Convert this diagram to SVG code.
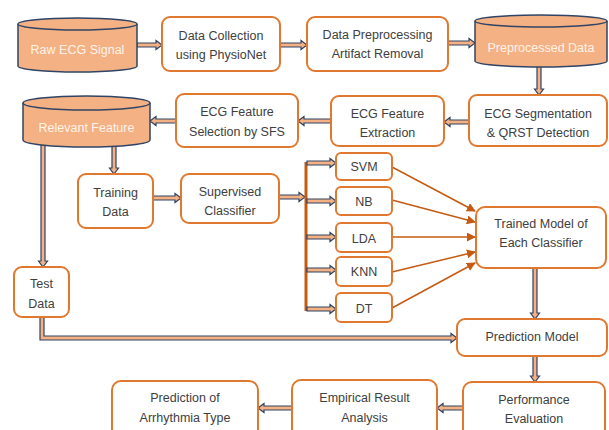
<svg xmlns="http://www.w3.org/2000/svg" width="609" height="430" viewBox="0 0 609 430">
<style>
.box{fill:#fff;stroke:#E0782F;stroke-width:2}
.cyl{fill:#F4B183;stroke:#2F4466;stroke-width:1.5}
.t{font-family:"Liberation Sans",Arial,sans-serif;font-size:12.5px;fill:#404040;text-anchor:middle}
.ct{font-family:"Liberation Sans",Arial,sans-serif;font-size:12.5px;fill:#FFF3EA;text-anchor:middle}
.ba{fill:#F4B183;stroke:#2F4466;stroke-width:1.2;stroke-linejoin:miter}
.oa{fill:none;stroke:#C55A11;stroke-width:1.5}
</style>
<defs>
<marker id="ah" viewBox="0 0 10 10" refX="9" refY="5" markerWidth="6" markerHeight="6" orient="auto" markerUnits="strokeWidth">
<path d="M0,0 L10,5 L0,10 Z" fill="#C55A11"/>
</marker>
</defs>
<rect width="609" height="430" fill="#fff"/>
<g id="connectors">
<path class="ba" d="M137,43 H156 V40.5 L162,45 L156,49.5 V47 H137 Z"/>
<path class="ba" d="M280,43 H301 V40.5 L307,45 L301,49.5 V47 H280 Z"/>
<path class="ba" d="M448,41 H469 V38.5 L475,43 L469,47.5 V45 H448 Z"/>
<path class="ba" d="M537,64 V89 H534.5 L539,95 L543.5,89 H541 V64 Z"/>
<path class="ba" d="M469,120 H450 V117.5 L444,122 L450,126.5 V124 H469 Z"/>
<path class="ba" d="M331,119 H304 V116.5 L298,121 L304,125.5 V123 H331 Z"/>
<path class="ba" d="M176,119 H156 V116.5 L150,121 L156,125.5 V123 H176 Z"/>
<path class="ba" d="M112,144 V168 H109.5 L114,174 L118.5,168 H116 V144 Z"/>
<path class="ba" d="M41,142 V261 H38.5 L43,267 L47.5,261 H45 V142 Z"/>
<path class="ba" d="M153,196 H175 V193.5 L181,198 L175,202.5 V200 H153 Z"/>
<path class="ba" d="M279,195 H299 V192.5 L305,197 L299,201.5 V199 H279 Z"/>
<line x1="306" y1="162" x2="306" y2="311" stroke="#C55A11" stroke-width="3"/>
<path class="ba" d="M307,161 H330 V158.5 L336,163 L330,167.5 V165 H307 Z"/>
<path class="ba" d="M307,199 H330 V196.5 L336,201 L330,205.5 V203 H307 Z"/>
<path class="ba" d="M307,235 H330 V232.5 L336,237 L330,241.5 V239 H307 Z"/>
<path class="ba" d="M307,268 H330 V265.5 L336,270 L330,274.5 V272 H307 Z"/>
<path class="ba" d="M307,307 H330 V304.5 L336,309 L330,313.5 V311 H307 Z"/>
<line class="oa" x1="392" y1="167" x2="475" y2="211" marker-end="url(#ah)"/>
<line class="oa" x1="392" y1="200" x2="475" y2="222" marker-end="url(#ah)"/>
<line class="oa" x1="392" y1="237" x2="475" y2="237" marker-end="url(#ah)"/>
<line class="oa" x1="392" y1="272" x2="475" y2="252" marker-end="url(#ah)"/>
<line class="oa" x1="392" y1="308" x2="475" y2="263" marker-end="url(#ah)"/>
<path class="ba" d="M533,268 V313 H530.5 L535,319 L539.5,313 H537 V268 Z"/>
<path class="ba" d="M533,356 V376 H530.5 L535,382 L539.5,376 H537 V356 Z"/>
<path class="ba" d="M463,406 H443 V403.5 L437,408 L443,412.5 V410 H463 Z"/>
<path class="ba" d="M292,406 H264 V403.5 L258,408 L264,412.5 V410 H292 Z"/>
<path class="ba" d="M40,317 V340 H451 V342.5 L457,338 L451,333.5 V336 H44 V317 Z"/>
</g>
<g id="raw">
<path class="cyl" d="M18,24 V66 A59.5,6 0 0 0 137,66 V24"/>
<ellipse class="cyl" cx="77.5" cy="24" rx="59.5" ry="6"/>
<text class="ct" x="77.5" y="54">Raw ECG Signal</text>
</g>
<g id="collect">
<rect class="box" x="162" y="17" width="118" height="54" rx="8"/>
<text class="t" x="221" y="40">Data Collection</text>
<text class="t" x="221" y="59">using PhysioNet</text>
</g>
<g id="preproc">
<rect class="box" x="307" y="17" width="141" height="54" rx="8"/>
<text class="t" x="377.5" y="39">Data Preprocessing</text>
<text class="t" x="377.5" y="58">Artifact Removal</text>
</g>
<g id="preprocessed">
<path class="cyl" d="M475,21 V61 A66,6 0 0 0 607,61 V21"/>
<ellipse class="cyl" cx="541" cy="21" rx="66" ry="6"/>
<text class="ct" x="541" y="52">Preprocessed Data</text>
</g>
<g id="seg">
<rect class="box" x="469" y="95" width="138" height="51" rx="8"/>
<text class="t" x="538" y="118">ECG Segmentation</text>
<text class="t" x="538" y="137">&amp; QRST Detection</text>
</g>
<g id="extract">
<rect class="box" x="331" y="96" width="113" height="50" rx="8"/>
<text class="t" x="387.5" y="118">ECG Feature</text>
<text class="t" x="387.5" y="137">Extraction</text>
</g>
<g id="select">
<rect class="box" x="176" y="94" width="122" height="53" rx="8"/>
<text class="t" x="237" y="116">ECG Feature</text>
<text class="t" x="237" y="136">Selection by SFS</text>
</g>
<g id="relevant">
<path class="cyl" d="M23,103 V140 A63.5,7 0 0 0 150,140 V103"/>
<ellipse class="cyl" cx="86.5" cy="103" rx="63.5" ry="7"/>
<text class="ct" x="86.5" y="132">Relevant Feature</text>
</g>
<g id="training">
<rect class="box" x="78" y="174" width="75" height="54" rx="8"/>
<text class="t" x="115.5" y="197">Training</text>
<text class="t" x="115.5" y="216">Data</text>
</g>
<g id="supervised">
<rect class="box" x="181" y="174" width="98" height="49" rx="8"/>
<text class="t" x="230" y="196">Supervised</text>
<text class="t" x="230" y="215">Classifier</text>
</g>
<g id="svm">
<rect class="box" x="336" y="153" width="56" height="27" rx="5"/>
<text class="t" x="364" y="171">SVM</text>
</g>
<g id="nb">
<rect class="box" x="336" y="187" width="56" height="28" rx="5"/>
<text class="t" x="364" y="206">NB</text>
</g>
<g id="lda">
<rect class="box" x="336" y="223" width="56" height="29" rx="5"/>
<text class="t" x="364" y="243">LDA</text>
</g>
<g id="knn">
<rect class="box" x="336" y="257" width="56" height="29" rx="5"/>
<text class="t" x="364" y="276">KNN</text>
</g>
<g id="dt">
<rect class="box" x="336" y="293" width="56" height="29" rx="5"/>
<text class="t" x="364" y="313">DT</text>
</g>
<g id="trained">
<rect class="box" x="476" y="207" width="130" height="61" rx="9"/>
<text class="t" x="541" y="228">Trained Model of</text>
<text class="t" x="541" y="247">Each Classifier</text>
</g>
<g id="test">
<rect class="box" x="14" y="267" width="55" height="50" rx="8"/>
<text class="t" x="41.5" y="288">Test</text>
<text class="t" x="41.5" y="308">Data</text>
</g>
<g id="predmodel">
<rect class="box" x="457" y="319" width="150" height="37" rx="8"/>
<text class="t" x="532" y="341">Prediction Model</text>
</g>
<g id="perf">
<rect class="box" x="463" y="382" width="142" height="60" rx="9"/>
<text class="t" x="534" y="404">Performance</text>
<text class="t" x="534" y="423">Evaluation</text>
</g>
<g id="empirical">
<rect class="box" x="292" y="380" width="145" height="60" rx="9"/>
<text class="t" x="364.5" y="402">Empirical Result</text>
<text class="t" x="364.5" y="422">Analysis</text>
</g>
<g id="predarr">
<rect class="box" x="112" y="381" width="146" height="60" rx="9"/>
<text class="t" x="185" y="402">Prediction of</text>
<text class="t" x="185" y="422">Arrhythmia Type</text>
</g>
</svg>
